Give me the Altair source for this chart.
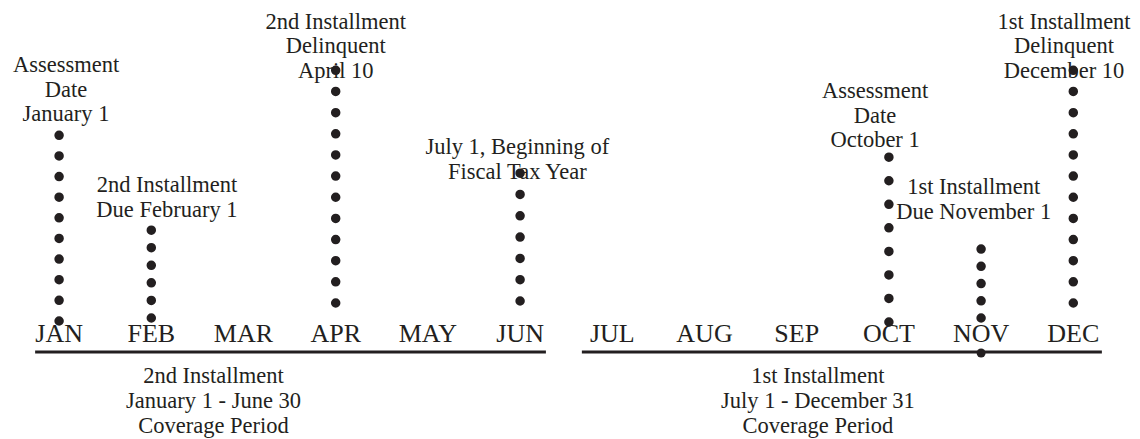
import altair as alt
import pandas as pd

# ---------------- data ----------------
months = ["JAN", "FEB", "MAR", "APR", "MAY", "JUN",
          "JUL", "AUG", "SEP", "OCT", "NOV", "DEC"]
month_index = list(range(12))

# dotted markers: month, height of lowest / highest dot above the timeline, number of dots
event_names = ["assess_jan", "due_feb", "delinq_apr", "fiscal_jul",
               "assess_oct", "due_nov", "delinq_dec"]
event_month = [0, 1, 3, 5, 9, 10, 11]
event_low = [31, 34, 49, 51, 30, 34, 49]
event_high = [217, 122, 282, 179, 195, 103, 282]
event_dots = [10, 6, 12, 7, 8, 5, 12]

note_text = [
    "Assessment\nDate\nJanuary 1",
    "2nd Installment\nDue February 1",
    "2nd Installment\nDelinquent\nApril 10",
    "July 1, Beginning of\nFiscal Tax Year",
    "Assessment\nDate\nOctober 1",
    "1st Installment\nDue November 1",
    "1st Installment\nDelinquent\nDecember 10",
]
note_at = [0.075, 1.17, 3.0, 4.97, 8.85, 9.92, 10.90]
note_height = [280, 160, 323.5, 198, 254, 158, 323.5]

period_text = ["2nd Installment\nJanuary 1 - June 30\nCoverage Period",
               "1st Installment\nJuly 1 - December 31\nCoverage Period"]
period_from = [-0.26, 5.67]
period_to = [5.28, 11.31]
period_label_at = [1.675, 8.23]
period_label_height = [-31, -31]

marker_month = [10]
marker_height = [-1]

# ---------------- layout / style ----------------
W, H = 1124, 431
XLO, XHI = -0.5542, 11.6367
YLO, YHI = -87, 344
INK = "#231f20"
SERIF = "Liberation Serif, DejaVu Serif, serif"

xs = alt.Scale(domain=[XLO, XHI], nice=False, zero=False)
ys = alt.Scale(domain=[YLO, YHI], nice=False, zero=False)
px_per_unit = H / (YHI - YLO)
dash_range = [[0, (hi - lo) * px_per_unit / (n - 1) - 0.03]
              for lo, hi, n in zip(event_low, event_high, event_dots)]

df_months = pd.DataFrame({"m": month_index, "label": months, "h": [10] * 12})
df_events = pd.DataFrame({"name": event_names, "m": event_month,
                          "lo": event_low, "hi": event_high})
df_notes = pd.DataFrame({"text": note_text, "m": note_at, "h": note_height})
df_periods = pd.DataFrame({"m0": period_from, "m1": period_to, "h": [0, 0]})
df_plabels = pd.DataFrame({"text": period_text, "m": period_label_at,
                           "h": period_label_height})
df_marker = pd.DataFrame({"m": marker_month, "h": marker_height})

timeline = alt.Chart(df_periods).mark_rule(color=INK, strokeWidth=3).encode(
    x=alt.X("m0:Q", scale=xs, axis=None),
    x2="m1:Q",
    y=alt.Y("h:Q", scale=ys, axis=None),
)

dots = alt.Chart(df_events).mark_rule(color=INK, strokeWidth=9.5, strokeCap="round").encode(
    x=alt.X("m:Q", scale=xs, axis=None),
    y=alt.Y("lo:Q", scale=ys, axis=None),
    y2="hi:Q",
    strokeDash=alt.StrokeDash("name:N", scale=alt.Scale(domain=event_names, range=dash_range),
                              legend=None),
)

marker = alt.Chart(df_marker).mark_circle(color=INK, opacity=1, size=80).encode(
    x=alt.X("m:Q", scale=xs, axis=None),
    y=alt.Y("h:Q", scale=ys, axis=None),
)

month_labels = alt.Chart(df_months).mark_text(
    font=SERIF, fontSize=26, color=INK, align="center", baseline="alphabetic"
).encode(
    x=alt.X("m:Q", scale=xs, axis=None),
    y=alt.Y("h:Q", scale=ys, axis=None),
    text="label:N",
)

notes = alt.Chart(df_notes).mark_text(
    font=SERIF, fontSize=22.5, color=INK, align="center", baseline="alphabetic",
    lineBreak="\n", lineHeight=24.5,
).encode(
    x=alt.X("m:Q", scale=xs, axis=None),
    y=alt.Y("h:Q", scale=ys, axis=None),
    text="text:N",
)

period_labels = alt.Chart(df_plabels).mark_text(
    font=SERIF, fontSize=22.5, color=INK, align="center", baseline="alphabetic",
    lineBreak="\n", lineHeight=25,
).encode(
    x=alt.X("m:Q", scale=xs, axis=None),
    y=alt.Y("h:Q", scale=ys, axis=None),
    text="text:N",
)

chart = alt.layer(
    timeline, month_labels, notes, period_labels, dots, marker
).properties(
    width=W, height=H, padding=0,
    autosize=alt.AutoSizeParams(type="none"),
    background="white",
).configure_view(stroke=None)

chart.save("out.html", embed_options={"renderer": "svg", "actions": False})
